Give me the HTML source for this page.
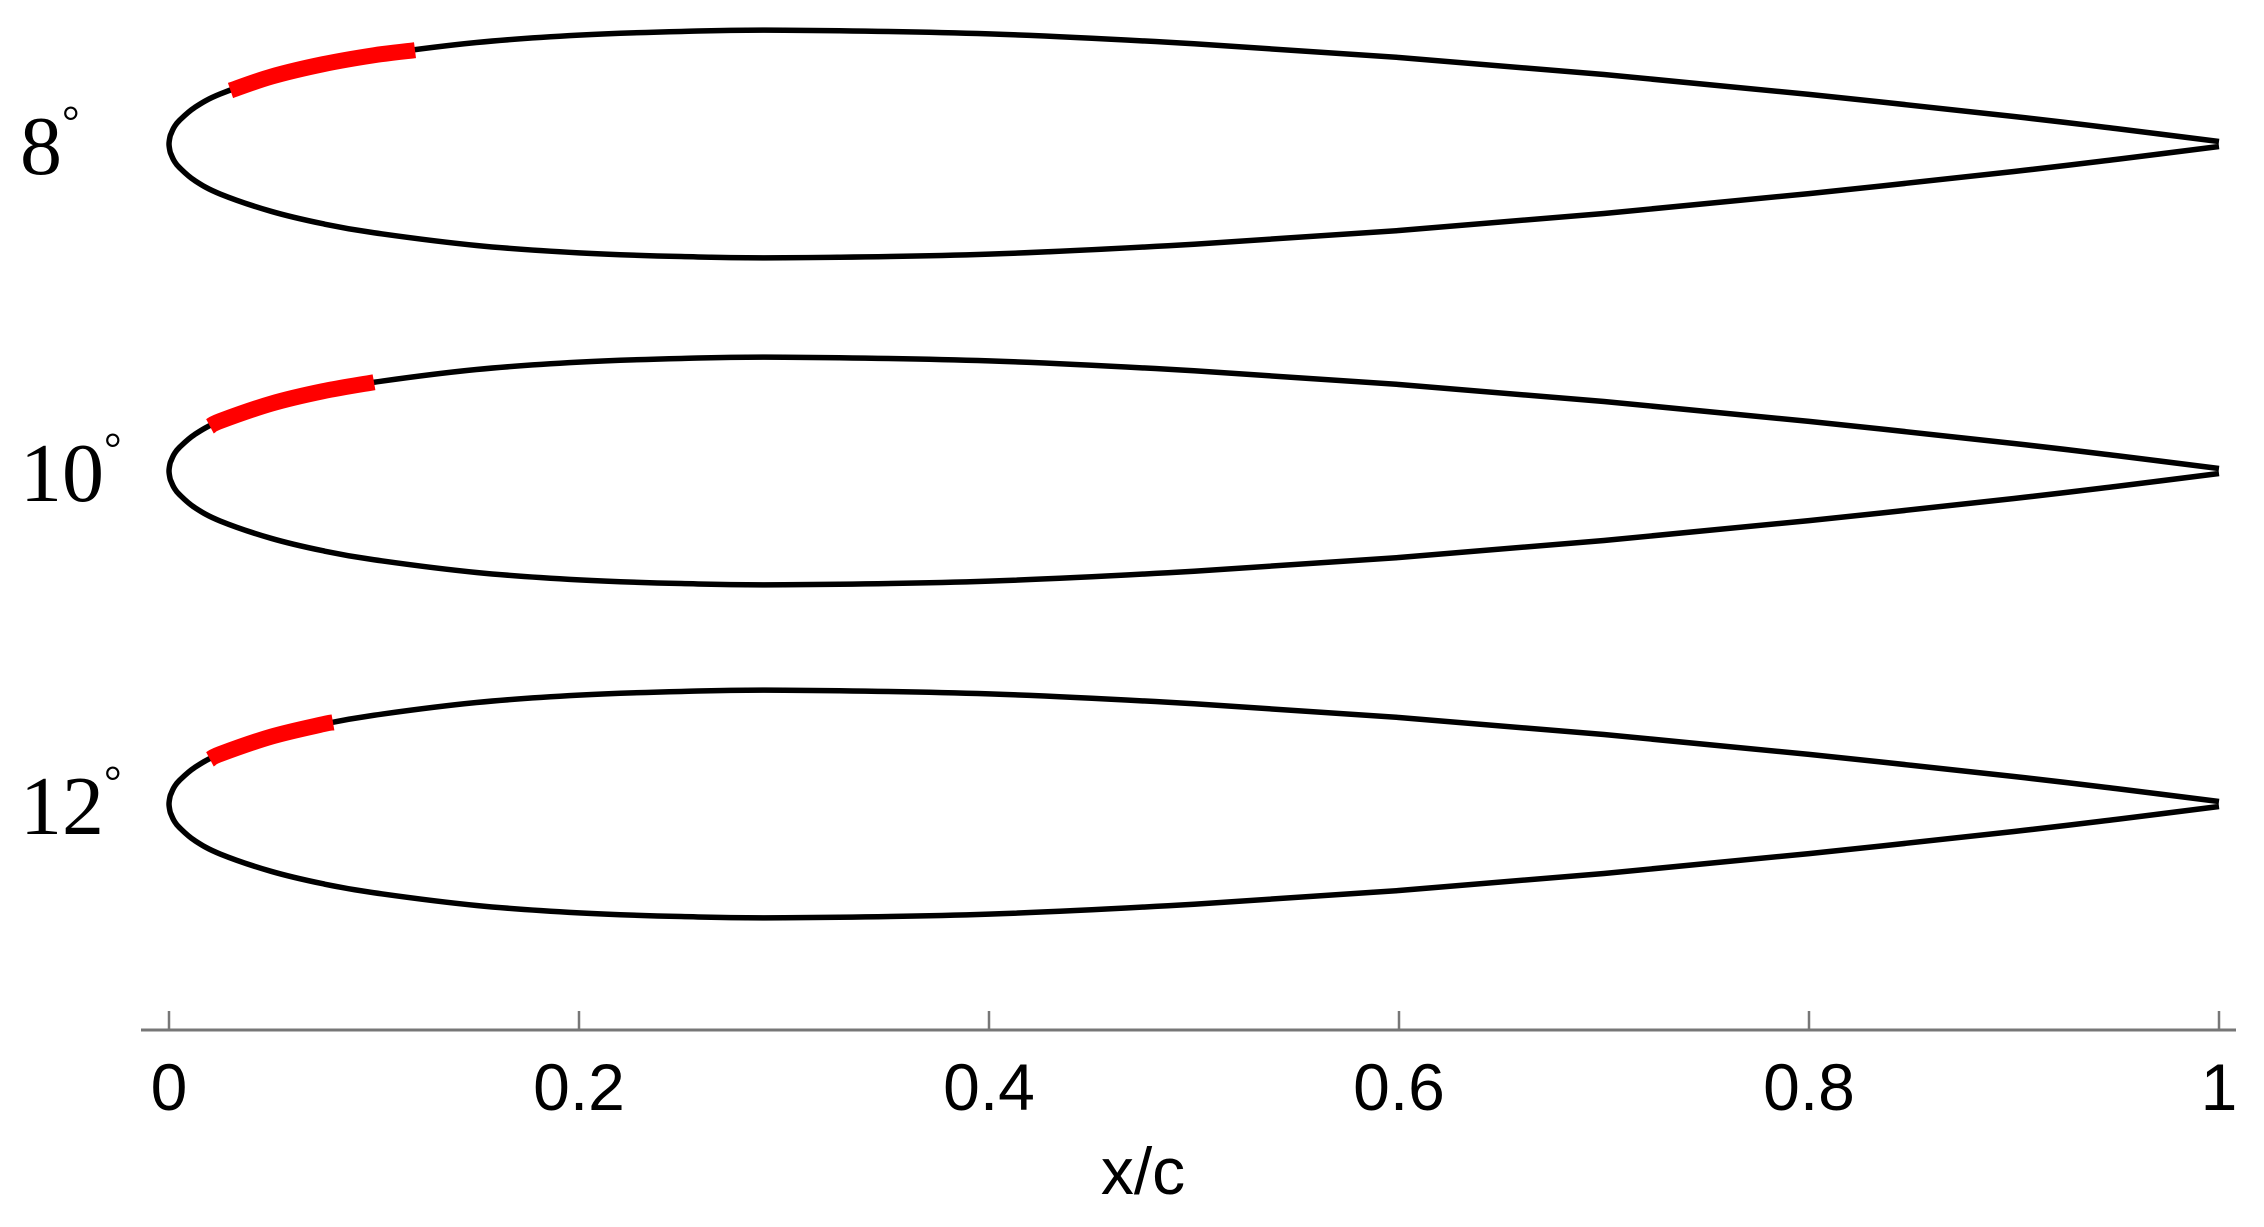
<!DOCTYPE html>
<html><head><meta charset="utf-8"><style>
html,body{margin:0;padding:0;background:#fff;}
svg{display:block;}
</style></head><body>
<svg id="chart" width="2264" height="1227" viewBox="0 0 2264 1227" xmlns="http://www.w3.org/2000/svg"></svg>
<script>
const xs = [0,0.0005,0.001,0.0025,0.005,0.0125,0.025,0.05,0.075,0.1,0.15,0.2,0.25,0.3,0.4,0.5,0.6,0.7,0.8,0.9,0.95,1.0];
const halfThickness = [0,0.0036,0.005,0.0082,0.0114,0.0178,0.0244,0.0329,0.0389,0.0433,0.0495,0.0531,0.0549,0.0555,0.0537,0.0489,0.0422,0.0339,0.0242,0.0134,0.0075,0.0012];
const angleLabels = ["8","10","12"];
const chordY = [144,471,804];
const redStart = [0.03,0.02,0.02];
const redEnd = [0.12,0.10,0.08];
const tickValues = [0,0.2,0.4,0.6,0.8,1];
const tickLabels = ["0","0.2","0.4","0.6","0.8","1"];

const NS="http://www.w3.org/2000/svg";
const svg=document.getElementById('chart');
const X0=169, X1=2219, S=X1-X0;
const sx=x=>X0+x*S;
const sy=(y,c)=>c-y*S;
function mk(tag,attrs,parent){const e=document.createElementNS(NS,tag);for(const k in attrs)e.setAttribute(k,attrs[k]);(parent||svg).appendChild(e);return e;}
function crPath(pts){
  let d=`M${pts[0][0]},${pts[0][1]}`;
  for(let i=0;i<pts.length-1;i++){
    const p0=pts[Math.max(0,i-1)],p1=pts[i],p2=pts[i+1],p3=pts[Math.min(pts.length-1,i+2)];
    const c1=[p1[0]+(p2[0]-p0[0])/6,p1[1]+(p2[1]-p0[1])/6];
    const c2=[p2[0]-(p3[0]-p1[0])/6,p2[1]-(p3[1]-p1[1])/6];
    d+=`C${c1[0]},${c1[1]} ${c2[0]},${c2[1]} ${p2[0]},${p2[1]}`;
  }
  return d;
}
function interpT(x){
  for(let i=0;i<xs.length-1;i++){if(x>=xs[i]&&x<=xs[i+1]){const f=(x-xs[i])/(xs[i+1]-xs[i]);return halfThickness[i]+f*(halfThickness[i+1]-halfThickness[i]);}}
  return 0;
}
angleLabels.forEach((lab,k)=>{
  const c=chordY[k];
  const pts=[];
  for(let i=xs.length-1;i>0;i--)pts.push([sx(xs[i]),sy(-halfThickness[i],c)]);
  for(let i=0;i<xs.length;i++)pts.push([sx(xs[i]),sy(halfThickness[i],c)]);
  const p=mk('path',{d:crPath(pts),fill:'none',stroke:'#000','stroke-width':5.5,'stroke-linejoin':'round'});
  
  
  const rp=[[sx(redStart[k]),sy(interpT(redStart[k]),c)]];
  xs.forEach((x,i)=>{if(x>redStart[k]&&x<redEnd[k])rp.push([sx(x),sy(halfThickness[i],c)]);});
  rp.push([sx(redEnd[k]),sy(interpT(redEnd[k]),c)]);
  const r=mk('path',{d:crPath(rp),fill:'none',stroke:'#f00','stroke-width':16});
  
  
  const t=mk('text',{x:20,y:c+30,'font-family':'Liberation Serif, serif','font-size':84,fill:'#000'});
  t.textContent=lab;
  mk('tspan',{'font-size':44,dy:-38},t).textContent='°';
  
  
});
const ax=mk('line',{x1:141,x2:2236,y1:1030,y2:1030,stroke:'#777','stroke-width':3});


tickValues.forEach((v,i)=>{
  const tk=mk('line',{x1:sx(v),x2:sx(v),y1:1011,y2:1030,stroke:'#777','stroke-width':2.5});
  
  
  const tl=mk('text',{x:sx(v),y:1110,'text-anchor':'middle','font-family':'Liberation Sans, sans-serif','font-size':66,fill:'#000'});
  tl.textContent=tickLabels[i];
  
  
});
const xt=mk('text',{x:1143,y:1194,'text-anchor':'middle','font-family':'Liberation Sans, sans-serif','font-size':66,fill:'#000'});
xt.textContent='x/c';


</script>
</body></html>
